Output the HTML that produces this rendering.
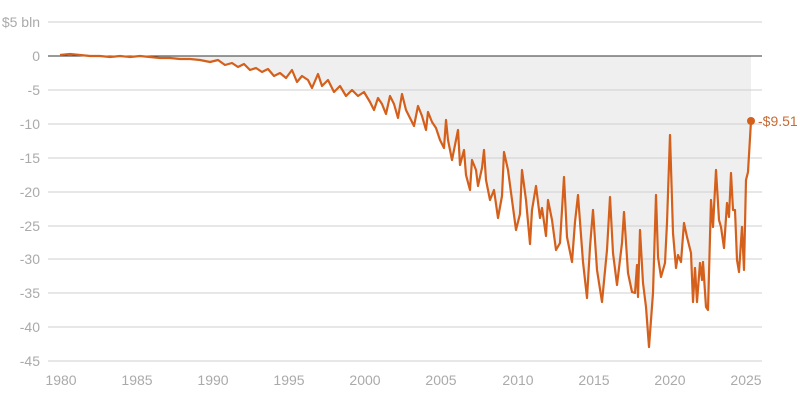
<!DOCTYPE html>
<html><head><meta charset="utf-8"><style>
html,body{margin:0;padding:0;background:#fff;}
svg{display:block;font-family:"Liberation Sans",sans-serif;}
</style></head><body>
<svg width="800" height="401" viewBox="0 0 800 401">
<g stroke="#cfcfcf" stroke-width="1">
<line x1="48" x2="762" y1="22" y2="22"/>
<line x1="48" x2="762" y1="90" y2="90"/>
<line x1="48" x2="762" y1="124" y2="124"/>
<line x1="48" x2="762" y1="158" y2="158"/>
<line x1="48" x2="762" y1="192" y2="192"/>
<line x1="48" x2="762" y1="226" y2="226"/>
<line x1="48" x2="762" y1="259" y2="259"/>
<line x1="48" x2="762" y1="293" y2="293"/>
<line x1="48" x2="762" y1="327" y2="327"/>
<line x1="48" x2="762" y1="361" y2="361"/>
</g>
<polygon id="fill" fill="#efefef" points=""/>
<g stroke="#cfcfcf" stroke-width="1">
<line x1="48" x2="762" y1="90" y2="90"/>
<line x1="48" x2="762" y1="124" y2="124"/>
<line x1="48" x2="762" y1="158" y2="158"/>
<line x1="48" x2="762" y1="192" y2="192"/>
<line x1="48" x2="762" y1="226" y2="226"/>
<line x1="48" x2="762" y1="259" y2="259"/>
<line x1="48" x2="762" y1="293" y2="293"/>
<line x1="48" x2="762" y1="327" y2="327"/>
</g>
<line x1="48" x2="762" y1="56" y2="56" stroke="#333" stroke-width="1"/>
<polyline id="ln" fill="none" stroke="#d4601c" stroke-width="2.2" stroke-linejoin="round" points=""/>
<circle cx="751" cy="121" r="4" fill="#d4601c"/>
<text x="758" y="126" font-size="14" fill="#c86a33">-$9.51</text>
<g font-size="14" fill="#aaa" text-anchor="end">
<text x="40" y="27">$5 bln</text>
<text x="40" y="61">0</text>
<text x="40" y="95">-5</text>
<text x="40" y="129">-10</text>
<text x="40" y="163">-15</text>
<text x="40" y="197">-20</text>
<text x="40" y="231">-25</text>
<text x="40" y="264">-30</text>
<text x="40" y="298">-35</text>
<text x="40" y="332">-40</text>
<text x="40" y="366">-45</text>
</g>
<g font-size="14" fill="#aaa" text-anchor="middle">
<text x="61" y="385">1980</text><text x="137" y="385">1985</text><text x="213" y="385">1990</text>
<text x="289" y="385">1995</text><text x="365" y="385">2000</text><text x="441" y="385">2005</text>
<text x="518" y="385">2010</text><text x="594" y="385">2015</text><text x="670" y="385">2020</text>
<text x="746" y="385">2025</text>
</g>
<script>
var p="60,55 70,54 80,55 90,56 100,56 110,57 120,56 130,57 140,56 150,57 160,58 170,58 180,59 190,59 200,60 210,62 218,60 225,65 232,63 238,67 244,64 250,70 256,68 262,72 268,69 274,76 280,73 286,78 292,70 297,82 302,76 308,80 312,88 318,74 322,86 328,80 334,92 340,86 346,96 352,90 358,96 364,92 370,102 374,110 378,98 382,104 386,114 390,96 394,104 398,118 402,94 406,110 410,118 414,126 418,106 422,116 426,130 428,112 432,122 436,128 440,140 444,148 446,120 448,140 452,160 456,140 458,130 460,165 464,150 466,175 470,190 472,160 476,170 478,186 482,168 484,150 486,180 490,200 494,190 498,218 502,196 504,152 508,170 512,200 516,230 520,214 522,170 526,200 530,244 532,210 536,186 540,218 542,208 546,236 548,200 552,220 556,250 560,243 564,177 567,237 572,262 575,222 578,195 583,262 587,298 590,247 593,210 597,270 602,302 607,250 610,197 613,253 617,285 622,243 624,212 628,273 632,292 635,293 637,265 638,297 640,230 643,283 646,307 649,347 653,293 656,195 658,257 661,277 665,263 667,223 670,135 673,233 676,268 678,255 681,262 684,223 687,237 691,253 693,302 695,268 697,302 700,263 702,280 703,262 706,307 708,310 711,200 713,227 716,170 719,220 721,227 724,248 727,203 729,217 731,173 733,210 735,210 737,260 739,272 742,227 744,270 746,180 748,172 751,121";
document.getElementById('ln').setAttribute('points',p);
document.getElementById('fill').setAttribute('points','60,56 '+p+' 751,56');
</script>
</svg>
</body></html>
